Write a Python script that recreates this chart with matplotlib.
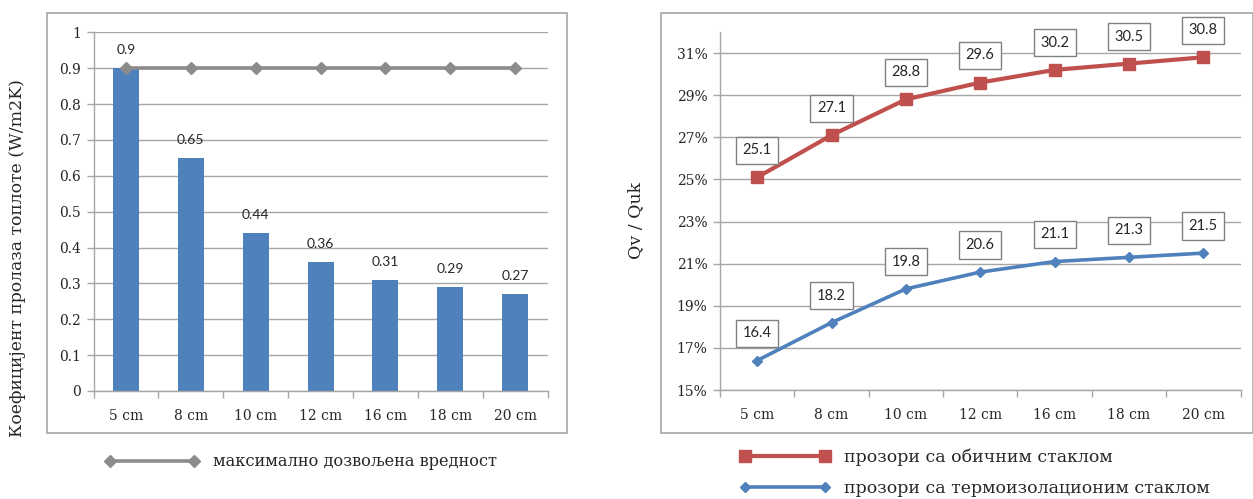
import matplotlib
matplotlib.use("Agg")
import matplotlib.pyplot as plt
from matplotlib.patches import Rectangle
from matplotlib.ticker import FuncFormatter, MultipleLocator, FixedLocator
import numpy as np

# --- data ---------------------------------------------------------------
categories = ['5 cm', '8 cm', '10 cm', '12 cm', '16 cm', '18 cm', '20 cm']
u_values = [0.9, 0.65, 0.44, 0.36, 0.31, 0.29, 0.27]
u_max_allowed = [0.9, 0.9, 0.9, 0.9, 0.9, 0.9, 0.9]
ordinary_glass = [25.1, 27.1, 28.8, 29.6, 30.2, 30.5, 30.8]
thermo_glass = [16.4, 18.2, 19.8, 20.6, 21.1, 21.3, 21.5]

left_ylabel = 'Коефицијент пролаза топлоте (W/m2K)'
right_ylabel = 'Qv / Quk'
max_label = 'максимално дозвољена вредност'
ordinary_label = 'прозори са обичним стаклом'
thermo_label = 'прозори са термоизолационим стаклом'

# --- styling ------------------------------------------------------------
SERIF = ['DejaVu Serif']
SANS = ['Lato', 'DejaVu Sans']
TEXT = '#262626'
GRID = '#a6a6a6'
FRAME = '#a6a6a6'
BAR = '#4f81bd'
GRAY_LINE = '#8c8c8c'
RED = '#c0504d'
BLUE = '#4f81bd'

plt.rcParams['font.family'] = SERIF

W, H = 1253, 499
fig = plt.figure(figsize=(W / 100, H / 100), dpi=100)


def fx(px):
    return px / W


def fy(py):
    return 1 - py / H


# outer chart frames
for x0, y0, x1, y1 in [(47.5, 13, 566.5, 432.5), (661, 13, 1252.5, 433)]:
    fig.add_artist(Rectangle((fx(x0), fy(y1)), fx(x1 - x0), (y1 - y0) / H,
                             transform=fig.transFigure, fill=False,
                             edgecolor=FRAME, linewidth=1.2, zorder=0))


def style_axes(ax, n):
    ax.set_xlim(-0.5, n - 0.5)
    for s in ('top', 'right'):
        ax.spines[s].set_visible(False)
    for s in ('left', 'bottom'):
        ax.spines[s].set_color(GRID)
        ax.spines[s].set_linewidth(1)
    ax.grid(axis='y', color=GRID, linewidth=1)
    ax.set_axisbelow(True)
    ax.set_xticks(np.arange(n))
    ax.set_xticklabels(categories)
    ax.xaxis.set_minor_locator(FixedLocator(np.arange(n + 1) - 0.5))
    ax.tick_params(axis='x', which='major', length=0, pad=13,
                   labelsize=10, colors=TEXT)
    ax.tick_params(axis='x', which='minor', length=5, color=GRID, width=1)
    ax.tick_params(axis='y', length=5, color=GRID, width=1, pad=4,
                   labelsize=10, colors=TEXT)


n = len(categories)
x = np.arange(n)

# --- left: heat transfer coefficient ----------------------------------
axL = fig.add_axes([fx(93.6), fy(391), fx(547.5 - 93.6), (391 - 32.3) / H])
style_axes(axL, n)
axL.set_ylim(0, 1)
axL.yaxis.set_major_locator(MultipleLocator(0.1))
axL.yaxis.set_major_formatter(FuncFormatter(lambda v, p: f'{v:.1f}'.rstrip('0').rstrip('.') if v else '0'))
axL.bar(x, u_values, width=0.4, color=BAR, zorder=2)
lineL, = axL.plot(x, u_max_allowed, color=GRAY_LINE, linewidth=2.6,
                  marker='D', markersize=6, zorder=3, label=max_label)
for xi, v in zip(x, u_values):
    axL.annotate(f'{v:g}', (xi, v), xytext=(0, 13), textcoords='offset points',
                 ha='center', va='center', fontsize=10, color=TEXT,
                 family=SANS, zorder=4)
fig.text(fx(18), fy(258), left_ylabel, rotation=90, ha='center', va='center',
         fontsize=12.4, color=TEXT)

fig.legend(handles=[lineL], loc='center left',
           bbox_to_anchor=(fx(90), fy(462)), frameon=False, fontsize=11.7,
           handlelength=5.8, numpoints=2, handletextpad=0.85,
           labelcolor=TEXT)

# --- right: share of window heat losses -------------------------------
axR = fig.add_axes([fx(720), fy(390), fx(1240.5 - 720), (390 - 32) / H])
style_axes(axR, n)
axR.set_ylim(15, 32)
axR.set_yticks(np.arange(15, 32, 2))
axR.yaxis.set_major_formatter(FuncFormatter(lambda v, p: f'{v:.0f}%'))
lineR, = axR.plot(x, ordinary_glass, color=RED, linewidth=3, marker='s',
                  markersize=8, zorder=3, label=ordinary_label)
lineB, = axR.plot(x, thermo_glass, color=BLUE, linewidth=2.6, marker='D',
                  markersize=5.5, zorder=3, label=thermo_label)
for series in (ordinary_glass, thermo_glass):
    for xi, v in zip(x, series):
        axR.annotate(f'{v:.1f}', (xi, v), xytext=(0, 19.5),
                     textcoords='offset points', ha='center', va='center',
                     fontsize=10.5, color=TEXT, family=SANS, zorder=5,
                     bbox=dict(boxstyle='square,pad=0.45', facecolor='white',
                               edgecolor='#808080', linewidth=1))
fig.text(fx(636), fy(220), right_ylabel, rotation=90, ha='center', va='center',
         fontsize=12.5, color=TEXT)

fig.legend(handles=[lineR, lineB], loc='center left',
           bbox_to_anchor=(fx(724), fy(473)), frameon=False, fontsize=12.5,
           handlelength=5.2, numpoints=2, handletextpad=0.8,
           labelspacing=0.82, labelcolor=TEXT)

fig.savefig('out.png', dpi=100)
